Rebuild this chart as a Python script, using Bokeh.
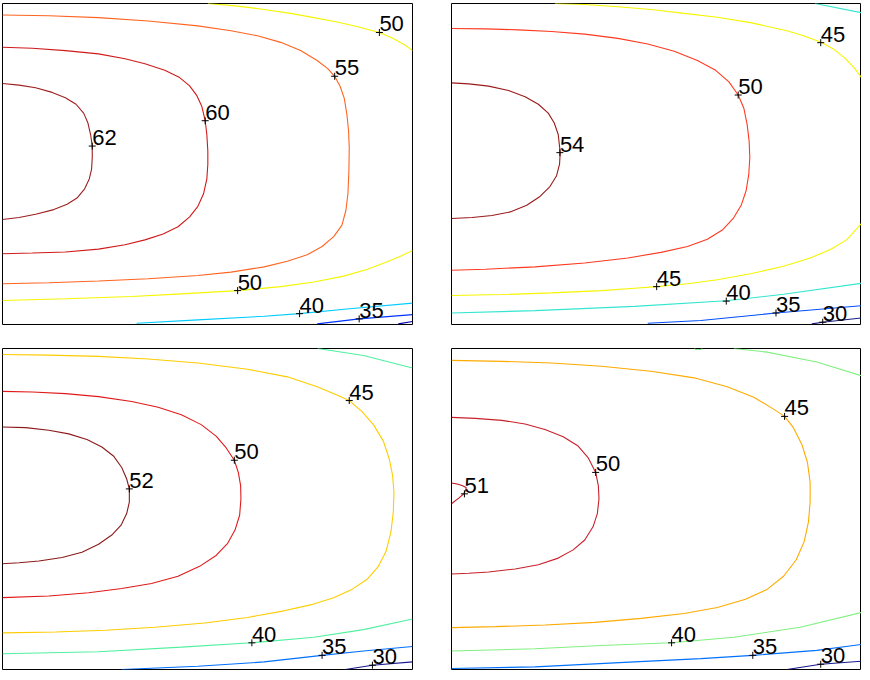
from bokeh.plotting import figure
from bokeh.layouts import column, row
from bokeh.models import Range1d
from bokeh.core.properties import value
from bokeh.embed import file_html
from bokeh.resources import INLINE

# ---------------- Panel 1 (top-left) ----------------
p1_c62_x = [10, 60, 110, 160, 200, 232, 255, 268, 276, 281, 281, 279, 272, 258, 235, 205, 165, 110, 60, 10]
p1_c62_y = [255, 260, 268, 282, 298, 318, 345, 375, 410, 445, 480, 515, 545, 575, 603, 622, 638, 652, 662, 668]
p1_c60_x = [10, 100, 200, 300, 380, 440, 500, 545, 575, 597, 612, 622, 627, 630, 630, 627, 617, 600, 575, 540, 495, 440, 380, 300, 200, 100, 10]
p1_c60_y = [145, 148, 155, 165, 180, 195, 215, 237, 262, 292, 325, 368, 410, 460, 500, 545, 590, 628, 660, 690, 712, 730, 745, 758, 767, 770, 772]
p1_c55_x = [10, 150, 300, 450, 600, 700, 780, 850, 910, 960, 992, 1013, 1030, 1042, 1050, 1055, 1057, 1056, 1053, 1047, 1035, 1010, 975, 930, 870, 800, 700, 600, 450, 300, 150, 10]
p1_c55_y = [47, 49, 55, 65, 80, 95, 110, 130, 155, 185, 210, 233, 265, 300, 350, 400, 450, 520, 590, 640, 685, 720, 750, 775, 795, 812, 828, 838, 848, 855, 860, 863]
p1_c50a_x = [630, 720, 800, 880, 950, 1020, 1080, 1148, 1190, 1225, 1248]
p1_c50a_y = [12, 20, 30, 42, 55, 68, 82, 100, 118, 138, 155]
p1_c50b_x = [10, 200, 400, 550, 720, 850, 950, 1040, 1110, 1170, 1215, 1248]
p1_c50b_y = [914, 909, 902, 894, 884, 872, 858, 840, 820, 797, 778, 762]
p1_c40_x = [415, 600, 800, 907, 1050, 1248]
p1_c40_y = [983, 973, 962, 954, 940, 922]
p1_c35_x = [960, 1087, 1248]
p1_c35_y = [985, 970, 957]
p1_c30_x = [1205, 1248]
p1_c30_y = [985, 978]
p1_lab_x = [281, 622, 1013, 1148, 720, 907, 1087]
p1_lab_y = [445, 368, 233, 100, 884, 954, 970]
p1_lab_t = ["62", "60", "55", "50", "50", "40", "35"]

# ---------------- Panel 2 (top-right) ----------------
p2_c54_x = [48, 100, 160, 220, 270, 310, 340, 358, 370, 376, 374, 365, 345, 315, 275, 225, 170, 110, 48]
p2_c54_y = [253, 256, 263, 276, 295, 318, 345, 375, 410, 465, 500, 535, 568, 598, 625, 645, 656, 662, 665]
p2_c50_x = [48, 150, 250, 350, 450, 550, 640, 720, 790, 845, 885, 913, 930, 940, 946, 948, 945, 937, 922, 898, 865, 820, 760, 680, 580, 450, 300, 150, 48]
p2_c50_y = [88, 89, 92, 97, 105, 118, 135, 157, 185, 215, 250, 290, 330, 380, 430, 480, 530, 580, 625, 665, 700, 728, 750, 768, 785, 800, 812, 819, 822]
p2_c45a_x = [360, 450, 550, 650, 750, 850, 950, 1060, 1110, 1163, 1200, 1235, 1265, 1285]
p2_c45a_y = [12, 15, 22, 30, 42, 54, 70, 95, 110, 130, 150, 178, 210, 237]
p2_c45b_x = [48, 200, 350, 500, 600, 667, 760, 850, 950, 1050, 1130, 1190, 1240, 1285]
p2_c45b_y = [899, 896, 891, 884, 877, 872, 863, 851, 833, 810, 785, 760, 730, 680]
p2_c40a_x = [1145, 1285]
p2_c40a_y = [12, 40]
p2_c40b_x = [48, 300, 600, 877, 1050, 1285]
p2_c40b_y = [952, 945, 932, 915, 895, 862]
p2_c35_x = [640, 800, 1027, 1285]
p2_c35_y = [983, 975, 952, 930]
p2_c30_x = [1135, 1168, 1285]
p2_c30_y = [985, 980, 967]
p2_lab_x = [375, 913, 1162, 667, 877, 1027, 1168]
p2_lab_y = [465, 290, 131, 872, 916, 952, 980]
p2_lab_t = ["54", "50", "45", "45", "40", "35", "30"]

# ---------------- Panel 3 (bottom-left) ----------------
p3_c52_x = [10, 80, 150, 210, 265, 310, 345, 370, 385, 393, 393, 385, 368, 340, 300, 250, 190, 120, 60, 10]
p3_c52_y = [282, 284, 292, 303, 320, 343, 370, 405, 440, 470, 510, 545, 580, 610, 638, 662, 678, 689, 694, 697]
p3_c50_x = [10, 100, 200, 300, 400, 480, 550, 610, 655, 685, 710, 722, 729, 730, 726, 712, 690, 655, 605, 540, 460, 370, 270, 150, 10]
p3_c50_y = [174, 176, 181, 190, 205, 222, 245, 275, 310, 345, 383, 420, 460, 500, 550, 595, 635, 672, 705, 735, 757, 772, 785, 795, 800]
p3_c45_x = [10, 150, 300, 450, 600, 750, 870, 960, 1020, 1057, 1095, 1130, 1160, 1178, 1188, 1192, 1190, 1183, 1168, 1145, 1110, 1065, 1010, 940, 860, 750, 620, 470, 320, 170, 10]
p3_c45_y = [62, 64, 68, 76, 88, 107, 130, 160, 185, 202, 235, 275, 325, 380, 430, 480, 540, 600, 660, 705, 745, 775, 800, 822, 840, 860, 877, 890, 899, 904, 907]
p3_c40a_x = [962, 1100, 1248]
p3_c40a_y = [44, 65, 103]
p3_c40b_x = [10, 300, 550, 763, 950, 1100, 1248]
p3_c40b_y = [970, 964, 950, 937, 920, 897, 865]
p3_c35_x = [370, 600, 800, 975, 1100, 1248]
p3_c35_y = [1018, 1008, 995, 975, 962, 948]
p3_c30_x = [1045, 1127, 1248]
p3_c30_y = [1018, 1005, 995]
p3_lab_x = [393, 710, 1057, 763, 975, 1127]
p3_lab_y = [470, 383, 202, 937, 975, 1005]
p3_lab_t = ["52", "50", "45", "40", "35", "30"]

# ---------------- Panel 4 (bottom-right) ----------------
p4_c51_x = [48, 65, 80, 92, 92, 85, 70, 58, 48]
p4_c51_y = [452, 455, 460, 466, 472, 485, 498, 507, 515]
p4_c50_x = [48, 120, 200, 270, 330, 385, 430, 460, 483, 491, 493, 488, 475, 450, 415, 370, 310, 240, 160, 100, 48]
p4_c50_y = [253, 256, 262, 273, 290, 312, 340, 375, 420, 460, 500, 545, 585, 625, 655, 680, 700, 713, 722, 726, 728]
p4_c45_x = [48, 200, 350, 500, 650, 780, 880, 960, 1015, 1053, 1080, 1105, 1122, 1130, 1130, 1125, 1112, 1088, 1050, 1000, 935, 850, 750, 620, 480, 330, 180, 48]
p4_c45_y = [80, 83, 88, 98, 113, 133, 160, 192, 225, 250, 285, 335, 390, 450, 510, 570, 630, 685, 735, 775, 805, 830, 848, 863, 875, 883, 888, 891]
p4_c40a_x = [900, 1000, 1150, 1285]
p4_c40a_y = [44, 55, 85, 127]
p4_c40c_x = [780, 785, 800, 805]
p4_c40c_y = [44, 47, 47, 44]
p4_c40b_x = [48, 300, 500, 712, 900, 1100, 1285]
p4_c40b_y = [962, 955, 945, 937, 920, 890, 845]
p4_c35_x = [48, 300, 600, 800, 957, 1150, 1285]
p4_c35_y = [1015, 1010, 995, 985, 975, 960, 942]
p4_c30_x = [1060, 1162, 1285]
p4_c30_y = [1018, 1002, 993]
p4_lab_x = [87, 483, 1053, 712, 957, 1162]
p4_lab_y = [485, 420, 250, 937, 975, 1002]
p4_lab_t = ["51", "50", "45", "40", "35", "30"]


def make_panel(xr, yr, lines, lab_x, lab_y, lab_t, borders, w, h):
    bl, br, bt, bb = borders
    p = figure(width=w, height=h, output_backend="svg", toolbar_location=None,
               x_axis_type=None, y_axis_type=None,
               x_range=Range1d(*xr), y_range=Range1d(*yr),
               min_border_left=bl, min_border_right=br,
               min_border_top=bt, min_border_bottom=bb)
    p.grid.visible = False
    p.outline_line_color = "black"
    p.outline_line_width = 1
    p.background_fill_color = "white"
    p.border_fill_color = "white"
    for xs, ys, col in lines:
        p.line(xs, ys, line_color=col, line_width=1.1)
    p.scatter(lab_x, lab_y, marker="cross", size=7, line_color="black", line_width=1)
    p.text(lab_x, lab_y, text=lab_t, text_font=value("Liberation Sans"),
           text_font_size="22px", text_color="black", text_align="left",
           text_baseline="bottom", x_offset=0, y_offset=-1)
    return p


p1 = make_panel((10, 1248), (987, 12), [
    (p1_c62_x, p1_c62_y, "#9E1F1F"),
    (p1_c60_x, p1_c60_y, "#D01A1A"),
    (p1_c55_x, p1_c55_y, "#FF6420"),
    (p1_c50a_x, p1_c50a_y, "#F5F500"),
    (p1_c50b_x, p1_c50b_y, "#F5F500"),
    (p1_c40_x, p1_c40_y, "#00CCFF"),
    (p1_c35_x, p1_c35_y, "#0033FF"),
    (p1_c30_x, p1_c30_y, "#0000AA"),
], p1_lab_x, p1_lab_y, p1_lab_t, (2, 20, 3, 12), 432, 336)

p2 = make_panel((48, 1285), (987, 12), [
    (p2_c54_x, p2_c54_y, "#9A1A1A"),
    (p2_c50_x, p2_c50_y, "#FF3A20"),
    (p2_c45a_x, p2_c45a_y, "#F5F500"),
    (p2_c45b_x, p2_c45b_y, "#F5F500"),
    (p2_c40a_x, p2_c40a_y, "#33E6D0"),
    (p2_c40b_x, p2_c40b_y, "#33E6D0"),
    (p2_c35_x, p2_c35_y, "#0050FF"),
    (p2_c30_x, p2_c30_y, "#1A1A80"),
], p2_lab_x, p2_lab_y, p2_lab_t, (19, 0, 3, 12), 429, 336)

p3 = make_panel((10, 1248), (1018, 44), [
    (p3_c52_x, p3_c52_y, "#8B1A1A"),
    (p3_c50_x, p3_c50_y, "#E01A1A"),
    (p3_c45_x, p3_c45_y, "#FFCC00"),
    (p3_c40a_x, p3_c40a_y, "#50F0A0"),
    (p3_c40b_x, p3_c40b_y, "#50F0A0"),
    (p3_c35_x, p3_c35_y, "#0070FF"),
    (p3_c30_x, p3_c30_y, "#1A1A90"),
], p3_lab_x, p3_lab_y, p3_lab_t, (2, 20, 12, 1), 432, 334)

p4 = make_panel((48, 1285), (1018, 44), [
    (p4_c51_x, p4_c51_y, "#C01020"),
    (p4_c50_x, p4_c50_y, "#C8202A"),
    (p4_c45_x, p4_c45_y, "#FFAA00"),
    (p4_c40a_x, p4_c40a_y, "#80F080"),
    (p4_c40c_x, p4_c40c_y, "#80F080"),
    (p4_c40b_x, p4_c40b_y, "#80F080"),
    (p4_c35_x, p4_c35_y, "#0070FF"),
    (p4_c30_x, p4_c30_y, "#1A1A90"),
], p4_lab_x, p4_lab_y, p4_lab_t, (19, 0, 12, 1), 429, 334)

layout = column(row(p1, p2, spacing=0), row(p3, p4, spacing=0), spacing=0)

open("out.html", "w").write(file_html(layout, INLINE))
